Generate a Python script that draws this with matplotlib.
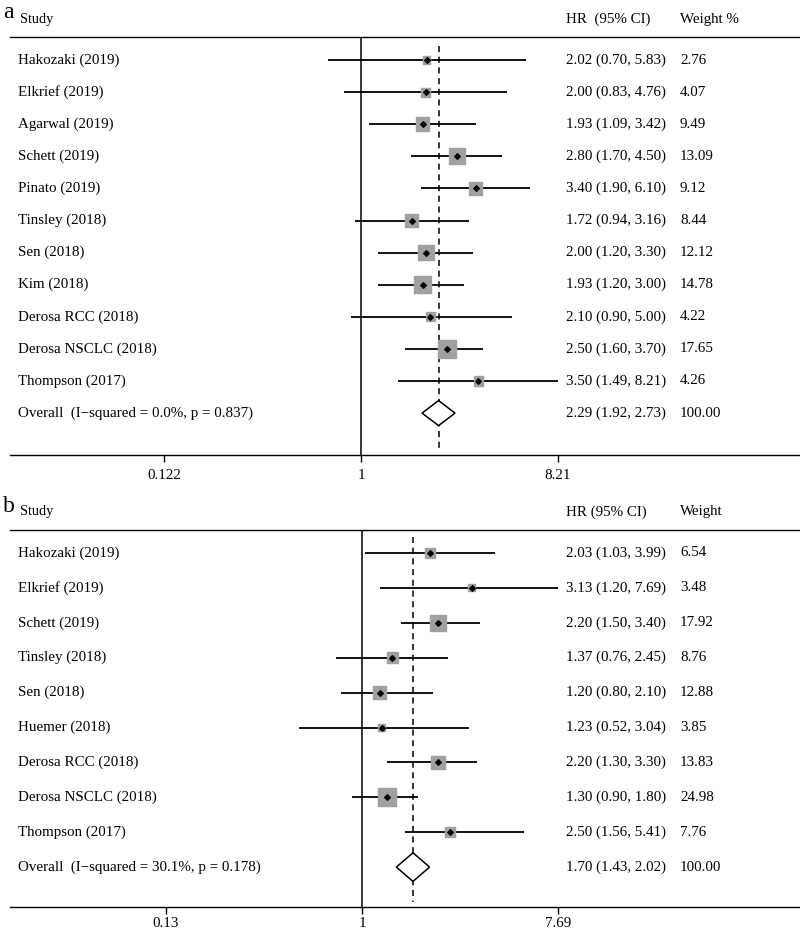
import numpy as np
import matplotlib.pyplot as plt
from matplotlib.transforms import blended_transform_factory

plt.rcParams['font.family'] = ['Liberation Serif', 'DejaVu Serif']

# Panel a data
studies_a = ['Hakozaki (2019)', 'Elkrief (2019)', 'Agarwal (2019)', 'Schett (2019)',
             'Pinato (2019)', 'Tinsley (2018)', 'Sen (2018)', 'Kim (2018)',
             'Derosa RCC (2018)', 'Derosa NSCLC (2018)', 'Thompson (2017)']
hr_a = [2.02, 2.00, 1.93, 2.80, 3.40, 1.72, 2.00, 1.93, 2.10, 2.50, 3.50]
lo_a = [0.70, 0.83, 1.09, 1.70, 1.90, 0.94, 1.20, 1.20, 0.90, 1.60, 1.49]
hi_a = [5.83, 4.76, 3.42, 4.50, 6.10, 3.16, 3.30, 3.00, 5.00, 3.70, 8.21]
wt_a = [2.76, 4.07, 9.49, 13.09, 9.12, 8.44, 12.12, 14.78, 4.22, 17.65, 4.26]
overall_a = (2.29, 1.92, 2.73)
het_a = 'Overall  (I\u2212squared = 0.0%, p = 0.837)'
ticks_a = [0.122, 1, 8.21]

# Panel b data
studies_b = ['Hakozaki (2019)', 'Elkrief (2019)', 'Schett (2019)', 'Tinsley (2018)',
             'Sen (2018)', 'Huemer (2018)', 'Derosa RCC (2018)', 'Derosa NSCLC (2018)',
             'Thompson (2017)']
hr_b = [2.03, 3.13, 2.20, 1.37, 1.20, 1.23, 2.20, 1.30, 2.50]
lo_b = [1.03, 1.20, 1.50, 0.76, 0.80, 0.52, 1.30, 0.90, 1.56]
hi_b = [3.99, 7.69, 3.40, 2.45, 2.10, 3.04, 3.30, 1.80, 5.41]
wt_b = [6.54, 3.48, 17.92, 8.76, 12.88, 3.85, 13.83, 24.98, 7.76]
overall_b = (1.70, 1.43, 2.02)
het_b = 'Overall  (I\u2212squared = 30.1%, p = 0.178)'
ticks_b = [0.13, 1, 7.69]

W, H = 800, 931
fig = plt.figure(figsize=(W / 100, H / 100), dpi=100)


def forest(ax, studies, hr, lo, hi, wt, overall, het, ticks, xlim, ylim,
           hr_hdr, weight_hdr, hdr_y, box_scale, dia_h, pad):
    n = len(studies)
    y = np.arange(n)
    ax.set_xscale('log')
    ax.set_xlim(*xlim)
    ax.set_ylim(*ylim)
    for s in ['left', 'right']:
        ax.spines[s].set_visible(False)
    ax.spines['top'].set_linewidth(1.0)
    ax.spines['bottom'].set_linewidth(1.0)
    ax.set_yticks([])
    ax.set_xticks(ticks)
    ax.set_xticklabels([f'{t:g}' for t in ticks])
    ax.xaxis.set_minor_locator(plt.NullLocator())
    ax.tick_params(axis='x', direction='out', length=5, width=1, labelsize=10.8, pad=pad)

    ax.axvline(1, color='black', lw=1.1)
    ax.plot([overall[0]] * 2, [-0.45, ylim[0] - 0.15], color='black', lw=1.1,
            ls=(0, (4, 3)))

    ax.hlines(y, lo, hi, color='black', lw=1.3)
    ax.scatter(hr, y, s=np.array(wt) * box_scale, marker='s', color='#a0a0a0', zorder=3)
    ax.scatter(hr, y, s=8, marker='D', color='black', zorder=4)

    est, l, u = overall
    ax.fill([l, est, u, est], [n, n - dia_h, n, n + dia_h], facecolor='white',
            edgecolor='black', lw=1.1, zorder=5)

    tr = blended_transform_factory(ax.transAxes, ax.transData)
    xs, xh, xw = (18 - 10) / 790, (566 - 10) / 790, (680 - 10) / 790
    fs = 10.8
    for i, name in enumerate(studies + [het]):
        ax.text(xs, i, name, transform=tr, va='center', ha='left', fontsize=fs)
    rows_hr = [f'{a:.2f} ({b:.2f}, {c:.2f})' for a, b, c in zip(hr, lo, hi)]
    rows_hr.append(f'{est:.2f} ({l:.2f}, {u:.2f})')
    rows_wt = [f'{w:.2f}' for w in wt] + ['100.00']
    for i in range(n + 1):
        ax.text(xh, i, rows_hr[i], transform=tr, va='center', ha='left', fontsize=fs)
        ax.text(xw, i, rows_wt[i], transform=tr, va='center', ha='left', fontsize=fs)
    ax.text(xs + 2 / 790, hdr_y, 'Study', transform=tr, va='center', ha='left', fontsize=10.3)
    ax.text(xh, hdr_y, hr_hdr, transform=tr, va='center', ha='left', fontsize=fs)
    ax.text(xw, hdr_y, weight_hdr, transform=tr, va='center', ha='left', fontsize=fs)


# panel a: 1 at px 361, 93.6 px per ln unit; rows 60..413 px
ax_a = fig.add_axes([10 / W, 1 - 455 / H, 790 / W, 418 / H])
sa = 93.6
forest(ax_a, studies_a, hr_a, lo_a, hi_a, wt_a, overall_a, het_a, ticks_a,
       (np.exp((10 - 361) / sa), np.exp((800 - 361) / sa)),
       ((455 - 60) / 32.1, (37 - 60) / 32.1), 'HR  (95% CI)', 'Weight %',
       (19 - 60) / 32.1, 10, 0.39, 5)

# panel b: 1 at px 362, 96.1 px per ln unit; rows 553..867 px
ax_b = fig.add_axes([10 / W, 1 - 907 / H, 790 / W, 377 / H])
sb = 96.1
forest(ax_b, studies_b, hr_b, lo_b, hi_b, wt_b, overall_b, het_b, ticks_b,
       (np.exp((10 - 362) / sb), np.exp((800 - 362) / sb)),
       ((907 - 553) / 34.9, (530 - 553) / 34.9), 'HR (95% CI)', 'Weight',
       (512 - 553) / 34.9, 7, 0.41, 2.5)

fig.text(3 / W, 1 - 13 / H, 'a', fontsize=17, va='center', ha='left')
fig.text(3 / W, 1 - 507 / H, 'b', fontsize=17, va='center', ha='left')

fig.savefig('out.png', dpi=100, facecolor='white')
